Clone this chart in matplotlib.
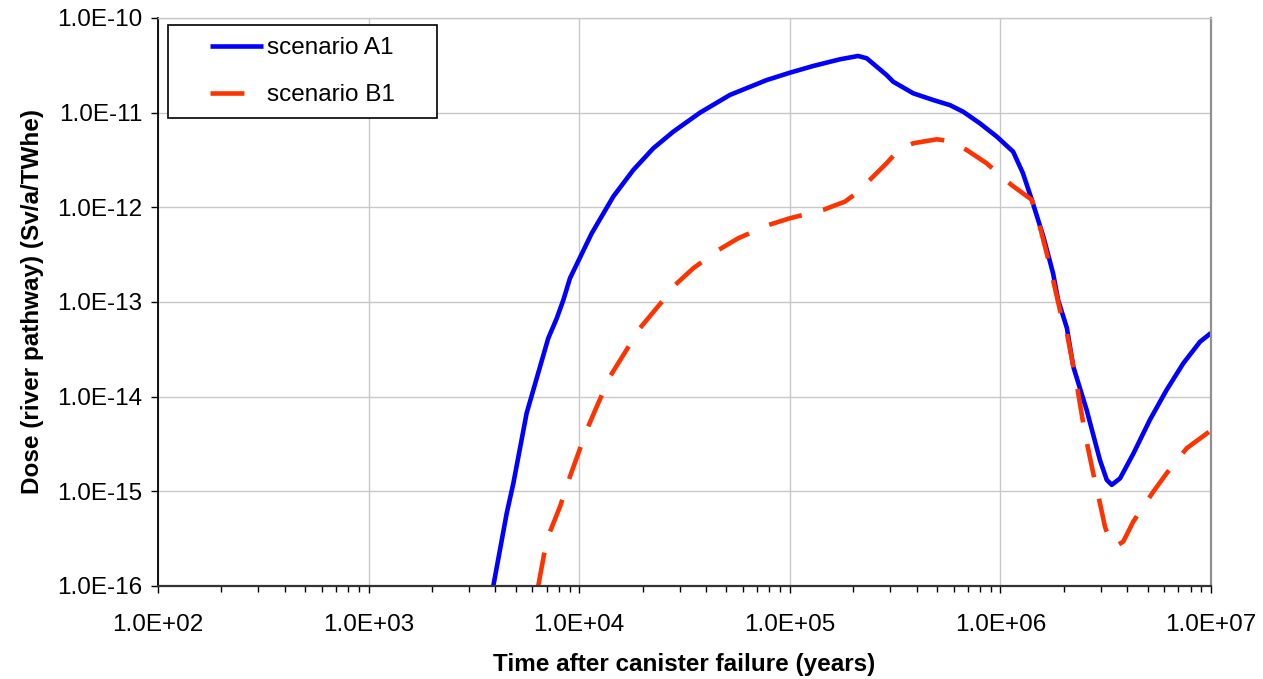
import matplotlib
matplotlib.use("Agg")
import matplotlib.pyplot as plt
from matplotlib.ticker import FuncFormatter, FixedLocator, NullLocator, NullFormatter
from matplotlib.legend_handler import HandlerLine2D

plt.rcParams['font.family'] = ['Liberation Sans', 'DejaVu Sans']

# scenario A1 (solid blue)
a1_time = [3910, 4530, 4870, 5630, 7130, 7820, 8410, 9040, 11460,
           14520, 18070, 22480, 27990, 37480, 52000, 77700, 1.0e5, 1.29e5, 1.73e5,
           2.11e5, 2.32e5, 2.88e5, 3.1e5, 3.86e5, 4.8e5, 5.77e5, 6.67e5, 8.0e5, 9.6e5,
           1.15e6, 1.28e6, 1.41e6, 1.6e6, 1.78e6, 1.88e6, 2.07e6, 2.22e6, 2.57e6, 2.97e6,
           3.2e6, 3.38e6, 3.7e6, 4.28e6, 5.13e6, 6.16e6, 7.39e6, 8.87e6, 1.0e7]
a1_dose = [1.0e-16, 5.9e-16, 1.22e-15, 6.7e-15, 4.14e-14, 6.7e-14, 1.05e-13, 1.78e-13, 5.3e-13,
           1.3e-12, 2.48e-12, 4.2e-12, 6.3e-12, 1.0e-11, 1.54e-11, 2.21e-11, 2.64e-11, 3.11e-11, 3.66e-11,
           3.97e-11, 3.75e-11, 2.5e-11, 2.12e-11, 1.6e-11, 1.36e-11, 1.2e-11, 1.02e-11, 7.7e-12, 5.6e-12,
           3.87e-12, 2.29e-12, 1.2e-12, 4.9e-13, 2.0e-13, 1.05e-13, 5.3e-14, 2.07e-14, 7.2e-15, 2.14e-15,
           1.32e-15, 1.17e-15, 1.37e-15, 2.5e-15, 5.7e-15, 1.18e-14, 2.25e-14, 3.8e-14, 4.7e-14]

# scenario B1 (dashed red)
b1_time = [6390, 7010, 8110, 9040, 10860, 12100, 14000, 16200, 19440, 25100,
           28500, 34800, 45800, 56900, 79100, 1.0e5, 1.44e5, 1.83e5, 2.08e5, 2.4e5, 2.88e5,
           3.34e5, 3.86e5, 4.99e5, 5.77e5, 6.92e5, 8.6e5, 1.13e6, 1.41e6, 1.54e6, 1.66e6,
           1.78e6, 1.95e6, 2.07e6, 2.3e6, 2.52e6, 2.76e6, 2.97e6, 3.14e6, 3.31e6, 3.5e6,
           3.83e6, 4.28e6, 5.32e6, 6.16e6, 7.67e6, 1.0e7]
b1_dose = [1.0e-16, 3.06e-16, 6.9e-16, 1.43e-15, 4.45e-15, 7.8e-15, 1.63e-14, 2.75e-14, 5.3e-14, 1.05e-13,
           1.51e-13, 2.27e-13, 3.54e-13, 4.71e-13, 6.5e-13, 7.66e-13, 9.4e-13, 1.15e-12, 1.42e-12, 1.95e-12, 2.92e-12,
           4.2e-12, 4.75e-12, 5.23e-12, 5.0e-12, 4.03e-12, 2.92e-12, 1.72e-12, 1.2e-12, 6.25e-13, 3.27e-13,
           1.7e-13, 7.0e-14, 4.67e-14, 1.38e-14, 4.1e-15, 1.55e-15, 7.5e-16, 4.2e-16, 3.06e-16, 2.6e-16,
           2.94e-16, 4.8e-16, 9.9e-16, 1.55e-15, 2.85e-15, 4.4e-15]

labels = ['scenario A1', 'scenario B1']
x_ticks = [1e2, 1e3, 1e4, 1e5, 1e6, 1e7]
y_ticks = [1e-16, 1e-15, 1e-14, 1e-13, 1e-12, 1e-11, 1e-10]
x_minor = [m * d for d in [1e2, 1e3, 1e4, 1e5, 1e6] for m in range(2, 10)]

fig = plt.figure(figsize=(12.63, 6.79), dpi=100)
ax = fig.add_axes([0.1251, 0.137, 0.8337, 0.8365])

line_a, = ax.plot(a1_time, a1_dose, color='#0000FF', lw=3.3, label=labels[0],
                  solid_capstyle='butt', solid_joinstyle='round')
line_b, = ax.plot(b1_time, b1_dose, color='#FF3300', lw=3.3, label=labels[1],
                  dashes=(7.4, 4.8), dash_capstyle='butt', dash_joinstyle='round')

ax.set_xscale('log')
ax.set_yscale('log')
ax.set_xlim(1e2, 1e7)
ax.set_ylim(1e-16, 1e-10)

sci = FuncFormatter(lambda v, pos: f"{v:.1E}")
ax.xaxis.set_major_locator(FixedLocator(x_ticks))
ax.xaxis.set_minor_locator(FixedLocator(x_minor))
ax.xaxis.set_major_formatter(sci)
ax.xaxis.set_minor_formatter(NullFormatter())
ax.yaxis.set_major_locator(FixedLocator(y_ticks))
ax.yaxis.set_minor_locator(NullLocator())
ax.yaxis.set_major_formatter(sci)

ax.tick_params(axis='x', which='major', length=5, width=1, pad=15.3, labelsize=17.5, direction='out')
ax.tick_params(axis='x', which='minor', length=4.3, width=1, direction='out')
ax.tick_params(axis='y', which='major', length=5, width=1, pad=6.5, labelsize=17.5, direction='out')

ax.grid(True, which='major', color='#c8c8c8', lw=1.0)
ax.set_axisbelow(True)

ax.spines['left'].set_color('black')
ax.spines['left'].set_linewidth(1.3)
ax.spines['bottom'].set_color('#333333')
ax.spines['bottom'].set_linewidth(1.6)
ax.spines['top'].set_color('#c8c8c8')
ax.spines['top'].set_linewidth(1.0)
ax.spines['right'].set_color('#909090')
ax.spines['right'].set_linewidth(1.6)

ax.set_xlabel('Time after canister failure (years)', fontsize=17.5, fontweight='bold', labelpad=12)
ax.set_ylabel('Dose (river pathway) (Sv/a/TWhe)', fontsize=17.5, fontweight='bold', labelpad=9)

leg = ax.legend(handles=[line_a, line_b], loc='upper left',
                bbox_to_anchor=(0.0095, 0.5, 0.2555, 0.4877), mode='expand',
                borderaxespad=0, fontsize=17.5, frameon=True, fancybox=False,
                edgecolor='black', framealpha=1, borderpad=0.5, labelspacing=1.03,
                handlelength=3.41, handletextpad=0.16,
                handler_map={line_a: HandlerLine2D(xpad=1.23),
                             line_b: HandlerLine2D(xpad=1.23)})
leg.get_frame().set_linewidth(1.2)

fig.savefig('out.png', dpi=100)
